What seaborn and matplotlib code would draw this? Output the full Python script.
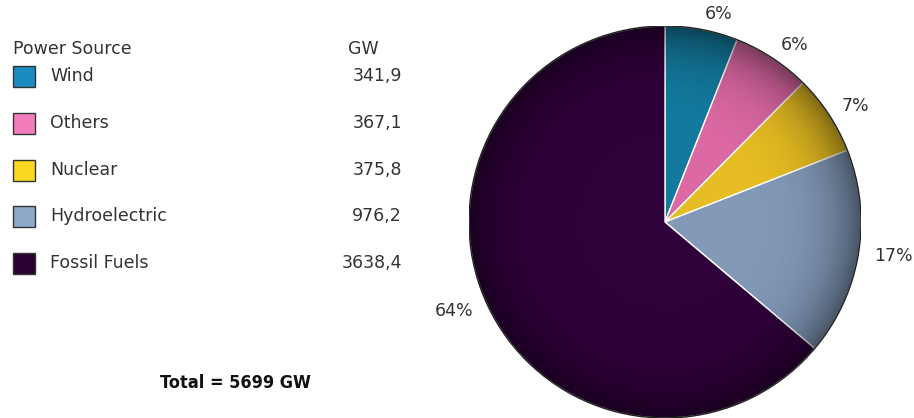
import numpy as np
import matplotlib
matplotlib.use("Agg")
import matplotlib.pyplot as plt
import seaborn as sns
from matplotlib.patches import Rectangle, Circle

sources = ["Wind", "Others", "Nuclear", "Hydroelectric", "Fossil Fuels"]
gw = [341.9, 367.1, 375.8, 976.2, 3638.4]
gw_labels = ["341,9", "367,1", "375,8", "976,2", "3638,4"]
legend_colors = ["#1a8cbf", "#f27dbb", "#f8d820", "#8ea9ca", "#2a0032"]
pie_colors = ["#137a9e", "#dc68a4", "#e6bd22", "#8299b8", "#2f003a"]
total_text = "Total = 5699 GW"

sns.set_theme(style="white")
plt.rcParams['font.family'] = ['DejaVu Sans']

fig = plt.figure(figsize=(9.14, 4.18), dpi=100)

# pixel-coordinate overlay for the legend table
bg = fig.add_axes([0, 0, 1, 1])
bg.set_xlim(0, 914)
bg.set_ylim(418, 0)
bg.axis("off")

txt_col = "#333333"
bg.text(13, 49, "Power Source", fontsize=12.5, va="center", ha="left", color=txt_col)
bg.text(348, 49, "GW", fontsize=12.5, va="center", ha="left", color=txt_col)
rows_y = [76, 123, 170, 216, 263]
for name, lab, col, y in zip(sources, gw_labels, legend_colors, rows_y):
    bg.add_patch(Rectangle((13, y - 10), 22, 21, facecolor=col, edgecolor="#333333", lw=1))
    bg.text(50, y, name, fontsize=12.5, va="center", ha="left", color=txt_col)
    bg.text(402, y, lab, fontsize=12.5, va="center", ha="right", color=txt_col)

bg.text(235, 383, total_text, fontsize=13, fontweight="bold", fontstretch="condensed",
        va="center", ha="center", color="#111111")

# pie
cx, cy, r = 665, 222, 196
ax = fig.add_axes([(cx - r) / 914, (418 - cy - r) / 418, 2 * r / 914, 2 * r / 418])
pct_labels = [f"{100 * v / sum(gw):.0f}%" for v in gw]
wedges, texts = ax.pie(
    gw, colors=pie_colors, startangle=90, counterclock=False,
    labels=pct_labels, labeldistance=1.08, radius=1,
    wedgeprops=dict(edgecolor="white", linewidth=1))
for t in texts:
    t.set_fontsize(12.5)
    t.set_color(txt_col)
    t.set_clip_on(False)

# radial darkening for the shaded look
n = 400
xs = np.linspace(-1, 1, n)
X, Y = np.meshgrid(xs, xs)
R = np.sqrt(X ** 2 + Y ** 2)
shade = np.zeros((n, n, 4))
shade[..., 3] = np.clip(0.45 * R ** 6, 0, 0.45)
im = ax.imshow(shade, extent=(-1, 1, -1, 1), zorder=3)
clip = Circle((0, 0), 1, transform=ax.transData)
im.set_clip_path(clip)
ax.add_patch(Circle((0, 0), 1, fill=False, edgecolor="#222222", lw=1, zorder=4))
ax.set_xlim(-1.0, 1.0)
ax.set_ylim(-1.0, 1.0)
ax.set_aspect("equal")
ax.axis("off")

fig.savefig("out.png", dpi=100)
